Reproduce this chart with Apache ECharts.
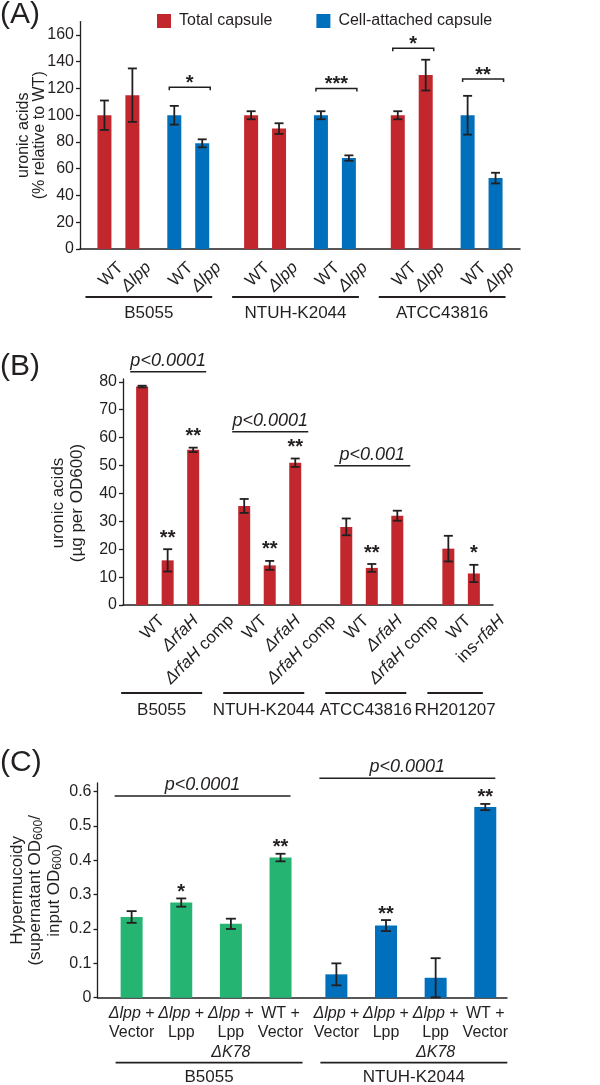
<!DOCTYPE html>
<html>
<head>
<meta charset="utf-8">
<script src="https://cdn.jsdelivr.net/npm/echarts@6/dist/echarts.min.js"></script>
<style>
html,body{margin:0;padding:0;background:#ffffff;}
#chart{width:600px;height:1085px;}
</style>
</head>
<body>
<div id="chart"></div>
<script>
// ---------- Panel A : uronic acids (% relative to WT) ----------
const aStrains = ['B5055', 'NTUH-K2044', 'ATCC43816'];
const aConditions = ['WT', '{i|Δlpp}'];
const aTotal = [100, 115, 100, 90, 100, 130];
const aTotalErr = [11, 20, 3, 4, 3, 11.5];
const aAttached = [100, 79, 100, 68, 100, 53];
const aAttachedErr = [7, 3, 3, 2, 14.5, 4];
const aTicks = [0, 20, 40, 60, 80, 100, 120, 140, 160];
const aSigStrain = [0, 1, 2, 2];
const aSigMeasure = [1, 1, 0, 1];      // 0 = total, 1 = cell-attached
const aSigLevel = [121, 120, 150, 127];
const aSigText = ['*', '***', '*', '**'];

// ---------- Panel B : uronic acids (µg per OD600) ----------
const bStrains = ['B5055', 'NTUH-K2044', 'ATCC43816', 'RH201207'];
const bConditions = [
  ['WT', '{i|ΔrfaH}', '{i|ΔrfaH} comp'],
  ['WT', '{i|ΔrfaH}', '{i|ΔrfaH} comp'],
  ['WT', '{i|ΔrfaH}', '{i|ΔrfaH} comp'],
  ['WT', 'ins-{i|rfaH}']
];
const bValues = [[78.3, 16, 55.6], [35.5, 14.2, 51], [28, 13.3, 32], [20.2, 11.3]];
const bErrors = [[0.3, 4, 0.8], [2.5, 1.6, 1.5], [3, 1.4, 1.8], [4.6, 3.1]];
const bStars = [['', '**', '**'], ['', '**', '**'], ['', '**', ''], ['', '*']];
const bTicks = [0, 10, 20, 30, 40, 50, 60, 70, 80];
const bPStrain = [0, 1, 2];
const bPLevel = [83.6, 62.1, 49.9];
const bPText = ['p<0.0001', 'p<0.0001', 'p<0.001'];

// ---------- Panel C : hypermucoidy ----------
const cStrains = ['B5055', 'NTUH-K2044'];
const cConditions = ['{i|Δlpp} +\nVector', '{i|Δlpp} +\nLpp', '{i|Δlpp} +\nLpp\n{i|ΔK78}', 'WT +\nVector'];
const cValues = [[0.235, 0.277, 0.215, 0.408], [0.068, 0.21, 0.058, 0.555]];
const cErrors = [[0.017, 0.012, 0.015, 0.011], [0.032, 0.016, 0.057, 0.009]];
const cStars = [['', '*', '', '**'], ['', '**', '', '**']];
const cTicks = [0, 0.1, 0.2, 0.3, 0.4, 0.5, 0.6];
const cPLevel = [0.5875, 0.639];
const cPText = ['p<0.0001', 'p<0.0001'];

// ---------- styling ----------
const FONT = '"Liberation Sans", Arial, sans-serif';
const INK = '#231F20';
const RED = '#C1272D', BLUE = '#0070BD', GREEN = '#26B473';
const B_LABEL_SHIFT = [20, 28, 38];   // horizontal nudge of rotated labels by position in group

// ---------- slot layout on category axes ----------
const aPos = [];
{ let p = 3; for (let s = 0; s < 3; s++) for (let m = 0; m < 2; m++) for (let c = 0; c < 2; c++) { aPos.push(p); p += c === 0 ? 4 : (m === 0 ? 6 : 7); } }
const aN = aPos[aPos.length - 1] + 4;
const bPos = [];
{ let p = 1; bValues.forEach(g => { const row = []; g.forEach(() => { row.push(p); p += 2; }); bPos.push(row); p += 2; }); }
const bN = bPos[bPos.length - 1][bPos[bPos.length - 1].length - 1] + 2;
const cPos = [];
{ let p = 5; cValues.forEach(g => { const row = []; g.forEach(() => { row.push(p); p += 8; }); cPos.push(row); p += 1; }); }
const cN = cPos[cPos.length - 1][cPos[cPos.length - 1].length - 1] + 4;

// ---------- derived series data ----------
const aTotalData = new Array(aN).fill(null), aAttData = new Array(aN).fill(null);
const aErrPts = [], aLabelPts = [], aLabelTexts = [];
aStrains.forEach((_, s) => {
  [0, 1].forEach(m => [0, 1].forEach(c => {
    const pos = aPos[s * 4 + m * 2 + c];
    const v = m === 0 ? aTotal[s * 2 + c] : aAttached[s * 2 + c];
    const e = m === 0 ? aTotalErr[s * 2 + c] : aAttachedErr[s * 2 + c];
    (m === 0 ? aTotalData : aAttData)[pos] = v;
    aErrPts.push([pos, v, e]);
    aLabelPts.push([pos, 0]);
    aLabelTexts.push(aConditions[c]);
  }));
});
const aGroupPts = aStrains.map((_, s) => [aPos[s * 4], aPos[s * 4 + 3]]);
const aSigPts = aSigStrain.map((s, k) => [aPos[s * 4 + aSigMeasure[k] * 2], aPos[s * 4 + aSigMeasure[k] * 2 + 1], aSigLevel[k]]);

const bData = new Array(bN).fill(null);
const bErrPts = [], bStarPts = [], bStarTexts = [], bLabelPts = [], bLabelTexts = [], bLabelShift = [];
bValues.forEach((g, s) => g.forEach((v, c) => {
  const pos = bPos[s][c];
  bData[pos] = v;
  bErrPts.push([pos, v, bErrors[s][c]]);
  bLabelPts.push([pos, 0]); bLabelTexts.push(bConditions[s][c]); bLabelShift.push(B_LABEL_SHIFT[c]);
  if (bStars[s][c]) { bStarPts.push([pos, v + bErrors[s][c]]); bStarTexts.push(bStars[s][c]); }
}));
const bGroupPts = bPos.map(row => [row[0], row[row.length - 1]]);
const bPPts = bPStrain.map((s, k) => [bPos[s][0], bPos[s][bPos[s].length - 1], bPLevel[k]]);

const cData = cStrains.map(() => new Array(cN).fill(null));
const cErrPts = [], cStarPts = [], cStarTexts = [], cLabelPts = [], cLabelTexts = [];
cValues.forEach((g, s) => g.forEach((v, c) => {
  const pos = cPos[s][c];
  cData[s][pos] = v;
  cErrPts.push([pos, v, cErrors[s][c]]);
  cLabelPts.push([pos, 0]); cLabelTexts.push(cConditions[c]);
  if (cStars[s][c]) { cStarPts.push([pos, v + cErrors[s][c]]); cStarTexts.push(cStars[s][c]); }
}));
const cGroupPts = cPos.map(row => [row[0], row[row.length - 1]]);
const cPPts = cPos.map((row, k) => [row[0], row[row.length - 1], cPLevel[k]]);

// ---------- helpers ----------
function txt(x, y, text, o) {
  return {
    type: 'text', x: x, y: y, rotation: o.rot || 0,
    style: {
      text: text, font: o.font, fill: INK,
      align: o.align || 'center', verticalAlign: o.va || 'middle',
      textAlign: o.align || 'center', textVerticalAlign: o.va || 'middle',
      lineHeight: o.lh, rich: o.rich
    }
  };
}
function italicRich(size, lh) {
  return { i: { font: 'italic ' + size + 'px ' + FONT, lineHeight: lh, fill: INK } };
}
function base(g, data, z) {
  return { type: 'custom', xAxisIndex: g, yAxisIndex: g, data: data, clip: false, silent: true, z: z || 6 };
}
function errSeries(g, pts, cap, lw) {
  return Object.assign(base(g, pts, 5), {
    renderItem(params, api) {
      const x = api.value(0), v = api.value(1), e = api.value(2);
      const t = api.coord([x, v + e]), b = api.coord([x, Math.max(0, v - e)]);
      const st = { stroke: INK, lineWidth: lw };
      return { type: 'group', children: [
        { type: 'line', shape: { x1: t[0], y1: t[1], x2: b[0], y2: b[1] }, style: st },
        { type: 'line', shape: { x1: t[0] - cap, y1: t[1], x2: t[0] + cap, y2: t[1] }, style: st },
        { type: 'line', shape: { x1: b[0] - cap, y1: b[1], x2: b[0] + cap, y2: b[1] }, style: st }
      ] };
    }
  });
}
function labelSeries(g, pts, texts, o, shifts) {
  return Object.assign(base(g, pts), {
    renderItem(params, api) {
      const p = api.coord([api.value(0), 0]);
      const dx = shifts ? shifts[params.dataIndex] : (o.dx || 0);
      return txt(p[0] + dx, p[1] + (o.dy || 0), texts[params.dataIndex], o);
    }
  });
}
function groupSeries(g, pts, names, o) {
  return Object.assign(base(g, pts), {
    renderItem(params, api) {
      const a = api.coord([api.value(0), 0]), b = api.coord([api.value(1), 0]);
      const x1 = a[0] - o.left, x2 = b[0] + o.right, y = a[1] + o.lineDy;
      return { type: 'group', children: [
        { type: 'line', shape: { x1: x1, y1: y, x2: x2, y2: y }, style: { stroke: INK, lineWidth: o.lw } },
        txt((x1 + x2) / 2 + (o.textDx || 0), a[1] + o.textDy, names[params.dataIndex], { font: o.font })
      ] };
    }
  });
}
function pLineSeries(g, pts, texts, o) {
  return Object.assign(base(g, pts), {
    renderItem(params, api) {
      const a = api.coord([api.value(0), api.value(2)]), b = api.coord([api.value(1), api.value(2)]);
      const x1 = a[0] - o.left, x2 = b[0] + o.right;
      return { type: 'group', children: [
        { type: 'line', shape: { x1: x1, y1: a[1], x2: x2, y2: a[1] }, style: { stroke: INK, lineWidth: o.lw } },
        txt((x1 + x2) / 2, a[1] - o.textGap, texts[params.dataIndex], { font: o.font, va: 'bottom' })
      ] };
    }
  });
}
function bracketSeries(g, pts, texts, o) {
  return Object.assign(base(g, pts), {
    renderItem(params, api) {
      const a = api.coord([api.value(0), api.value(2)]), b = api.coord([api.value(1), api.value(2)]);
      const x1 = a[0] - o.left, x2 = b[0] + o.right, y = a[1];
      return { type: 'group', children: [
        { type: 'polyline', shape: { points: [[x1, y + o.tick], [x1, y], [x2, y], [x2, y + o.tick]] }, style: { stroke: INK, lineWidth: o.lw, fill: null } },
        txt((x1 + x2) / 2, y - o.textGap, texts[params.dataIndex], { font: o.font })
      ] };
    }
  });
}
function starSeries(g, pts, texts, o) {
  return Object.assign(base(g, pts), {
    renderItem(params, api) {
      const p = api.coord([api.value(0), api.value(1)]);
      return txt(p[0], p[1] - o.gap, texts[params.dataIndex], { font: o.font });
    }
  });
}
function catAxis(g, n) {
  return {
    type: 'category', gridIndex: g, data: Array.from({ length: n }, (_, i) => 'slot' + i),
    axisLine: { lineStyle: { color: INK, width: 1.5 } }, axisTick: { show: false },
    axisLabel: { show: false }, splitLine: { show: false }
  };
}
function valAxis(g, max, ticks, fs, name, nameGap, nameStyle, fmt) {
  return {
    type: 'value', gridIndex: g, min: 0, max: max,
    axisLine: { show: true, lineStyle: { color: INK, width: 1.3 } },
    axisTick: { show: true, length: 4, customValues: ticks, lineStyle: { color: INK, width: 1.3 } },
    axisLabel: { customValues: ticks, color: INK, fontSize: fs, fontFamily: FONT, margin: 6, formatter: fmt },
    splitLine: { show: false },
    name: name, nameLocation: 'middle', nameRotate: 90, nameGap: nameGap, nameMoveOverlap: false,
    nameTextStyle: Object.assign({ color: INK, fontFamily: FONT }, nameStyle)
  };
}

const chart = echarts.init(document.getElementById('chart'), null, { renderer: 'canvas' });
const letterStyle = { fontSize: 30, fontWeight: 'normal', fontFamily: FONT, color: INK };
const subRich = { s: { fontSize: 12, lineHeight: 12, verticalAlign: 'bottom', color: INK, fontFamily: FONT } };
chart.setOption({
  animation: false,
  backgroundColor: '#ffffff',
  title: [
    { text: '(A)', left: 0, top: 0, padding: 0, textStyle: letterStyle },
    { text: '(B)', left: 0, top: 352, padding: 0, textStyle: letterStyle },
    { text: '(C)', left: 0, top: 748, padding: 0, textStyle: letterStyle }
  ],
  legend: {
    data: ['Total capsule', 'Cell-attached capsule'], left: 152, top: 8, icon: 'rect',
    itemWidth: 14, itemHeight: 14, itemGap: 44, selectedMode: false,
    textStyle: { fontSize: 16, fontFamily: FONT, color: INK, padding: [0, 0, 0, 3] }
  },
  grid: [
    { left: 80, top: 21.6, width: 440, height: 227.4 },
    { left: 123, top: 379, width: 370, height: 226 },
    { left: 97, top: 783, width: 410, height: 214.7 }
  ],
  xAxis: [catAxis(0, aN), catAxis(1, bN), catAxis(2, cN)],
  yAxis: [
    valAxis(0, 170, aTicks, 16, 'uronic acids\n(% relative to WT)', 32, { fontSize: 16, lineHeight: 16.5 }),
    valAxis(1, 81, bTicks, 16, 'uronic acids\n(µg per OD600)', 36, { fontSize: 17, lineHeight: 19, padding: [0, 22, 0, 0] }),
    valAxis(2, 0.625, cTicks, 16, 'Hypermucoidy\n(supernatant OD{s|600}/\ninput OD{s|600})', 34,
      { fontSize: 17, lineHeight: 18.5, rich: subRich },
      v => v === 0 ? '0' : v.toFixed(1))
  ],
  series: [
    { name: 'Total capsule', type: 'bar', xAxisIndex: 0, yAxisIndex: 0, data: aTotalData, barWidth: 14, barGap: '-100%', itemStyle: { color: RED } },
    { name: 'Cell-attached capsule', type: 'bar', xAxisIndex: 0, yAxisIndex: 0, data: aAttData, barWidth: 14, barGap: '-100%', itemStyle: { color: BLUE } },
    errSeries(0, aErrPts, 4.5, 1.8),
    bracketSeries(0, aSigPts, aSigText, { left: 5, right: 8, tick: 3, lw: 1.5, textGap: 4, font: 'bold 20px ' + FONT }),
    labelSeries(0, aLabelPts, aLabelTexts, { dx: 16, dy: 16, rot: Math.PI / 4, align: 'right', font: '17px ' + FONT, rich: italicRich(17) }),
    groupSeries(0, aGroupPts, aStrains, { left: 19, right: 10, lineDy: 48, textDy: 64, lw: 1.8, font: '17px ' + FONT }),

    { name: 'B', type: 'bar', xAxisIndex: 1, yAxisIndex: 1, data: bData, barWidth: 12, itemStyle: { color: RED } },
    errSeries(1, bErrPts, 4.5, 1.8),
    starSeries(1, bStarPts, bStarTexts, { gap: 11, font: 'bold 20px ' + FONT }),
    pLineSeries(1, bPPts, bPText, { left: 12, right: 13, lw: 1.5, textGap: 2, font: 'italic 18px ' + FONT }),
    labelSeries(1, bLabelPts, bLabelTexts, { dy: 13, rot: Math.PI / 4, align: 'right', font: '17px ' + FONT, rich: italicRich(17) }, bLabelShift),
    groupSeries(1, bGroupPts, bStrains, { left: 21, right: 9, lineDy: 88, textDy: 105, lw: 1.8, font: '17px ' + FONT }),

    { name: 'C1', type: 'bar', xAxisIndex: 2, yAxisIndex: 2, data: cData[0], barWidth: 22, barGap: '-100%', itemStyle: { color: GREEN } },
    { name: 'C2', type: 'bar', xAxisIndex: 2, yAxisIndex: 2, data: cData[1], barWidth: 22, barGap: '-100%', itemStyle: { color: BLUE } },
    errSeries(2, cErrPts, 5, 1.8),
    starSeries(2, cStarPts, cStarTexts, { gap: 6, font: 'bold 20px ' + FONT }),
    pLineSeries(2, cPPts, cPText, { left: 17, right: 10, lw: 1.5, textGap: 2, font: 'italic 18px ' + FONT }),
    labelSeries(2, cLabelPts, cLabelTexts, { dx: 0, dy: 6, va: 'top', font: '16px ' + FONT, lh: 19.5, rich: italicRich(16, 19.5) }),
    groupSeries(2, cGroupPts, cStrains, { left: 16, right: 22, lineDy: 65, textDy: 80, lw: 1.8, font: '17px ' + FONT })
  ]
});
</script>
</body>
</html>
